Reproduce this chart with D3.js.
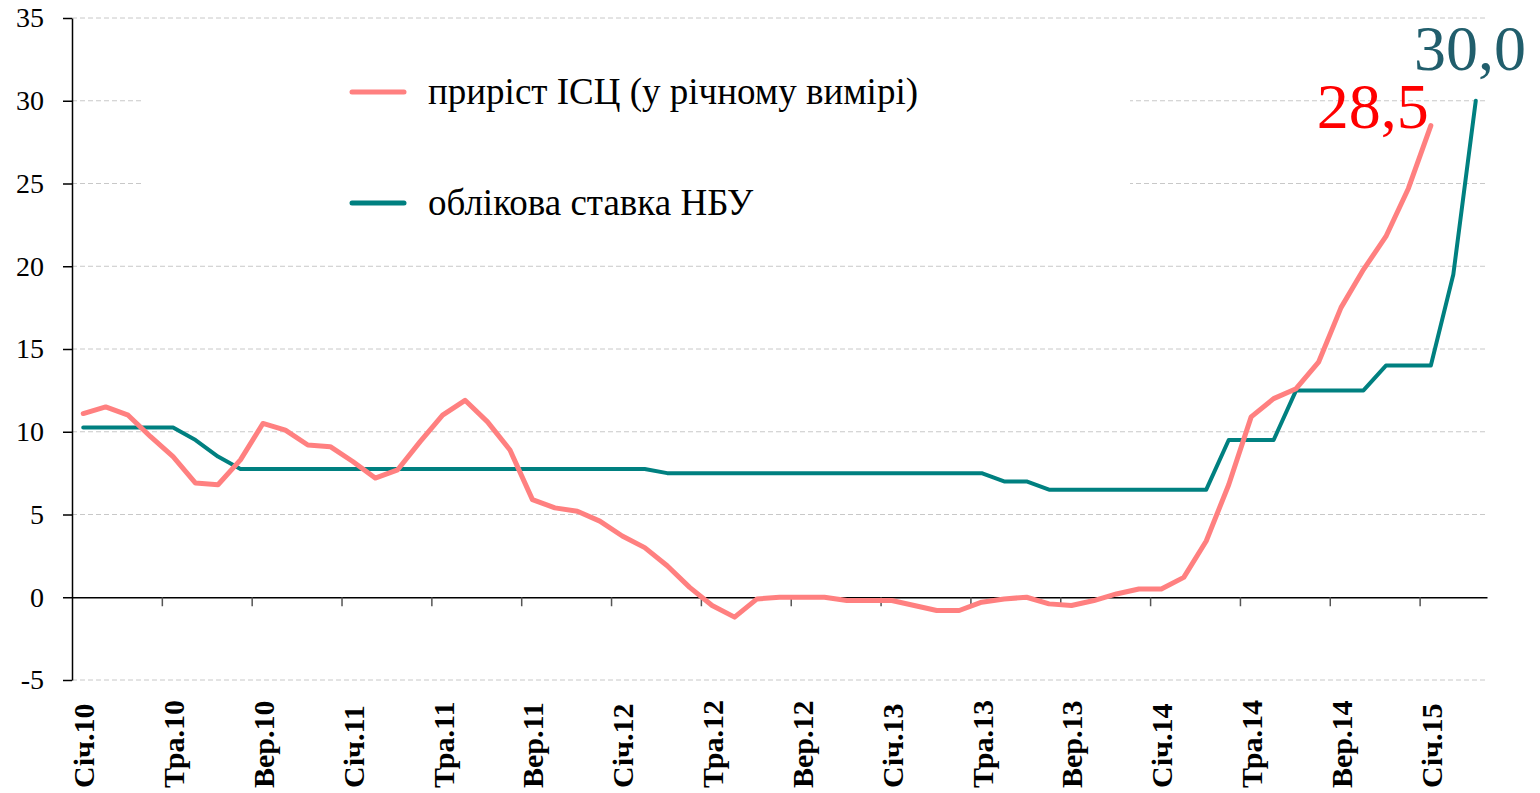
<!DOCTYPE html>
<html>

<head>
    <title>ІСЦ та облікова ставка НБУ</title>
    <meta charset="UTF-8">
    <script src="https://d3js.org/d3.v7.min.js"></script>
    <style type="text/css">
        body { margin: 0; background: #fff; }
        text { font-family: "Liberation Serif", "Times New Roman", serif; }
    </style>
</head>

<body>
    <script type="text/javascript">
        // Months Jan 2010 - Mar 2015
        var monthNames = ["Січ", "Лют", "Бер", "Кві", "Тра", "Чер", "Лип", "Сер", "Вер", "Жов", "Лис", "Гру"];
        var years = ["10", "11", "12", "13", "14", "15"];
        var months = [];
        years.forEach(function (yr) {
            monthNames.forEach(function (m) { months.push(m + "." + yr); });
        });
        months = months.slice(0, 63);

        var tickLabels = ["Січ.10", "Тра.10", "Вер.10", "Січ.11", "Тра.11", "Вер.11", "Січ.12", "Тра.12",
            "Вер.12", "Січ.13", "Тра.13", "Вер.13", "Січ.14", "Тра.14", "Вер.14", "Січ.15"];
        var yTicks = [-5, 0, 5, 10, 15, 20, 25, 30, 35];

        // CPI growth, y/y (Jan 2010 - Jan 2015)
        var cpi = [11.1, 11.5, 11.0, 9.7, 8.5, 6.9, 6.8, 8.3, 10.5, 10.1, 9.2, 9.1,
            8.2, 7.2, 7.7, 9.4, 11.0, 11.9, 10.6, 8.9, 5.9, 5.4, 5.2, 4.6,
            3.7, 3.0, 1.9, 0.6, -0.5, -1.2, -0.1, 0.0, 0.0, 0.0, -0.2, -0.2,
            -0.2, -0.5, -0.8, -0.8, -0.3, -0.1, 0.0, -0.4, -0.5, -0.2, 0.2, 0.5,
            0.5, 1.2, 3.4, 6.8, 10.9, 12.0, 12.6, 14.2, 17.5, 19.8, 21.8, 24.7,
            28.5];

        // NBU discount rate (Jan 2010 - Mar 2015)
        var rate = [10.25, 10.25, 10.25, 10.25, 10.25, 9.5, 8.5, 7.75, 7.75, 7.75, 7.75, 7.75,
            7.75, 7.75, 7.75, 7.75, 7.75, 7.75, 7.75, 7.75, 7.75, 7.75, 7.75, 7.75,
            7.75, 7.75, 7.5, 7.5, 7.5, 7.5, 7.5, 7.5, 7.5, 7.5, 7.5, 7.5,
            7.5, 7.5, 7.5, 7.5, 7.5, 7.0, 7.0, 6.5, 6.5, 6.5, 6.5, 6.5,
            6.5, 6.5, 6.5, 9.5, 9.5, 9.5, 12.5, 12.5, 12.5, 12.5, 14.0, 14.0,
            14.0, 19.5, 30.0];

        var seriesNames = ["приріст ІСЦ (у річному вимірі)", "облікова ставка НБУ"];
        var colors = ["#ff8080", "#008080"];

        var width = 1540, height = 793;
        var plotLeft = 72, plotRight = 1487, plotTop = 18, plotBottom = 680;

        var svg = d3.select("body").append("svg")
            .attr("width", width)
            .attr("height", height);

        // Scales
        var x = d3.scaleBand().domain(months).range([plotLeft, plotRight]).padding(0);
        var xEdge = d3.scaleLinear().domain([0, months.length]).range([plotLeft, plotRight]);
        var y = d3.scaleLinear().domain([-5, 35]).range([plotBottom, plotTop]);
        var cx = function (i) { return x(months[i]) + x.bandwidth() / 2; };

        // Gridlines
        svg.append("g").selectAll("line")
            .data(yTicks.filter(function (d) { return d !== 0; }))
            .enter().append("line")
            .attr("x1", plotLeft).attr("x2", plotRight)
            .attr("y1", function (d) { return y(d); })
            .attr("y2", function (d) { return y(d); })
            .attr("stroke", "#c8c8c8")
            .attr("stroke-width", 1)
            .attr("stroke-dasharray", "5,3");

        // Legend background hides the grid behind it
        svg.append("rect")
            .attr("x", 142).attr("y", 40)
            .attr("width", 988).attr("height", 210)
            .attr("fill", "#fff");

        // Y axis
        var yAxis = d3.axisLeft(y)
            .tickValues(yTicks)
            .tickSize(9)
            .tickSizeOuter(0)
            .tickPadding(19)
            .tickFormat(function (d) { return String(d); });
        var gy = svg.append("g")
            .attr("transform", "translate(" + plotLeft + ",0)")
            .call(yAxis);
        gy.select(".domain").attr("stroke", "#000").attr("stroke-width", 1.5);
        gy.selectAll(".tick line").attr("stroke", "#000").attr("stroke-width", 1.5);
        gy.selectAll("text")
            .style("font-size", "28px")
            .style("font-family", "Liberation Serif")
            .attr("fill", "#000");

        // X axis at zero, ticks at boundaries every 4 months
        var xAxis = d3.axisBottom(xEdge)
            .tickValues(d3.range(4, months.length, 4))
            .tickSize(9)
            .tickSizeOuter(0)
            .tickFormat("");
        var gx = svg.append("g")
            .attr("transform", "translate(0," + y(0) + ")")
            .call(xAxis);
        gx.select(".domain").attr("stroke", "#000").attr("stroke-width", 1.5);
        gx.selectAll(".tick line").attr("stroke", "#555").attr("stroke-width", 1.5);

        // X labels (rotated)
        svg.append("g").selectAll("text")
            .data(tickLabels)
            .enter().append("text")
            .attr("transform", function (d) {
                return "translate(" + (x(d) + x.bandwidth() / 2 + 11) + "," + 788 + ") rotate(-90)";
            })
            .attr("text-anchor", "start")
            .style("font-size", "30px")
            .style("font-weight", "bold")
            .text(function (d) { return d; });

        // Lines
        var line = d3.line()
            .x(function (d, i) { return cx(i); })
            .y(function (d) { return y(d); });

        svg.append("path")
            .datum(rate)
            .attr("fill", "none")
            .attr("stroke", colors[1])
            .attr("stroke-width", 4)
            .attr("stroke-linejoin", "round")
            .attr("stroke-linecap", "round")
            .attr("d", line);

        svg.append("path")
            .datum(cpi)
            .attr("fill", "none")
            .attr("stroke", colors[0])
            .attr("stroke-width", 5)
            .attr("stroke-linejoin", "round")
            .attr("stroke-linecap", "round")
            .attr("d", line);

        // Legend
        var legend = svg.append("g");
        [92, 203].forEach(function (ly, i) {
            legend.append("line")
                .attr("x1", 352).attr("x2", 404)
                .attr("y1", ly).attr("y2", ly)
                .attr("stroke", colors[i])
                .attr("stroke-width", 5)
                .attr("stroke-linecap", "round");
            legend.append("text")
                .attr("x", 428).attr("y", ly)
                .attr("dy", "0.33em")
                .style("font-size", "37px")
                .text(seriesNames[i]);
        });

        // End value labels
        svg.append("text")
            .attr("x", cx(cpi.length - 1) - 2)
            .attr("y", 128)
            .attr("text-anchor", "end")
            .style("font-size", "64px")
            .attr("fill", "#ff0000")
            .text("28,5");

        svg.append("text")
            .attr("x", 1526)
            .attr("y", 70)
            .attr("text-anchor", "end")
            .style("font-size", "64px")
            .attr("fill", "#215e6c")
            .text("30,0");
    </script>
</body>

</html>
